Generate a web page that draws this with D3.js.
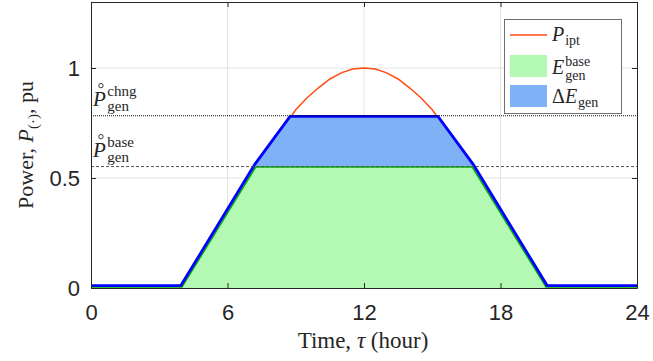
<!DOCTYPE html>
<html>
<head>
<meta charset="utf-8">
<script src="https://d3js.org/d3.v7.min.js"></script>
<style>
  body { margin: 0; background: #fff; }
  svg { display: block; }
  .tick text { font-family: "Liberation Sans", Arial, sans-serif; font-size: 22px; fill: #262626; }
  .serif { font-family: "Liberation Serif", "Times New Roman", serif; fill: #262626; }
</style>
</head>
<body>
<svg id="viz" width="653" height="361"></svg>
<script>
// input power profile P_ipt (pu) against time of day (hour)
const hours = [0, 4, 5, 6, 7, 8, 8.5, 9, 9.5, 10, 10.5, 11, 11.5, 12,
               12.5, 13, 13.5, 14, 14.5, 15, 15.5, 16, 17, 18, 19, 20, 24]
const pIpt = [0, 0, 0.17, 0.34, 0.51, 0.665, 0.737, 0.81, 0.865, 0.91, 0.95, 0.978, 0.995, 1,
              0.995, 0.978, 0.95, 0.91, 0.865, 0.81, 0.737, 0.665, 0.51, 0.34, 0.17, 0, 0]

// generation limited at the base level (green) and the changed level (blue)
const baseHours = [0, 4, 7.24, 16.76, 20, 24]
const baseGen = [0.004, 0.004, 0.55, 0.55, 0.004, 0.004]
const chngHours = [0, 3.95, 7.2, 8.75, 15.25, 16.8, 20.05, 24]
const chngGen = [0.011, 0.011, 0.562, 0.78, 0.78, 0.562, 0.011, 0.011]

const baseLevel = 0.552
const chngLevel = 0.783

const xTicks = [0, 6, 12, 18, 24]
const yTicks = [0, 0.5, 1]

const svg = d3.select("#viz")
const x = d3.scaleLinear().domain([0, 24]).range([91, 637])
const y = d3.scaleLinear().domain([0, 1.3]).range([288, 2])
const ink = "#262626"

// grid
svg.append("g").selectAll("line").data(xTicks.slice(1, -1)).enter().append("line")
  .attr("x1", d => x(d)).attr("x2", d => x(d)).attr("y1", y(0)).attr("y2", y(1.3))
  .attr("stroke", "#e4e4e4").attr("stroke-width", 1)
svg.append("g").selectAll("line").data(yTicks.slice(1)).enter().append("line")
  .attr("x1", x(0)).attr("x2", x(24)).attr("y1", d => y(d)).attr("y2", d => y(d))
  .attr("stroke", "#e4e4e4").attr("stroke-width", 1)

const pts = (hs, vs) => hs.map((h, i) => [h, vs[i]])
const line = d3.line().x(d => x(d[0])).y(d => y(d[1]))
const area = d3.area().x(d => x(d[0])).y0(y(0)).y1(d => y(d[1]))

// input power
svg.append("path").attr("d", line(pts(hours, pIpt)))
  .attr("fill", "none").attr("stroke", "#ff4d12").attr("stroke-width", 1.5)

// fills
svg.append("path").attr("d", area(pts(chngHours, chngGen))).attr("fill", "#7fb1f6")
svg.append("path").attr("d", area(pts(baseHours, baseGen))).attr("fill", "#b3f9b3")

// generation lines
svg.append("path").attr("d", line(pts(baseHours, baseGen)))
  .attr("fill", "none").attr("stroke", "#00b000").attr("stroke-width", 1.5)
svg.append("path").attr("d", line(pts(chngHours, chngGen)))
  .attr("fill", "none").attr("stroke", "#0000ff").attr("stroke-width", 2.8)

// reference levels
svg.append("line").attr("x1", x(0)).attr("x2", x(24)).attr("y1", y(chngLevel)).attr("y2", y(chngLevel))
  .attr("stroke", "#111").attr("stroke-width", 1).attr("stroke-dasharray", "1,1")
svg.append("line").attr("x1", x(0)).attr("x2", x(24)).attr("y1", y(baseLevel)).attr("y2", y(baseLevel))
  .attr("stroke", "#555").attr("stroke-width", 1).attr("stroke-dasharray", "3,2")

// axes (ticks inside, box on)
svg.append("g").attr("transform", `translate(0,${y(0)})`)
  .call(d3.axisBottom(x).tickValues(xTicks).tickSize(-5).tickPadding(16).tickSizeOuter(0))
svg.append("g").attr("transform", `translate(${x(0)},0)`)
  .call(d3.axisLeft(y).tickValues(yTicks).tickSize(-5).tickPadding(11).tickSizeOuter(0)
    .tickFormat(d3.format("~g")))
svg.append("g").attr("transform", `translate(0,${y(1.3)})`)
  .call(d3.axisTop(x).tickValues(xTicks).tickSize(-5).tickFormat("").tickSizeOuter(0))
svg.append("g").attr("transform", `translate(${x(24)},0)`)
  .call(d3.axisRight(y).tickValues(yTicks).tickSize(-5).tickFormat("").tickSizeOuter(0))
svg.selectAll(".domain, .tick line").attr("stroke", ink)

// math-style label helper: italic base letter with stacked super/subscripts
function mathLabel(g, px, py, letter, sup, sub, opts = {}) {
  const fs = opts.fs || 20, ss = opts.ss || 14
  const t = g.append("text").attr("class", "serif").attr("x", px).attr("y", py)
    .attr("font-size", fs)
  if (opts.prefix) t.append("tspan").text(opts.prefix)
  t.append("tspan").attr("font-style", "italic").text(letter)
  const w = t.node().getComputedTextLength()
  if (opts.ring) {
    // accent ring above the letter
    g.append("circle").attr("cx", px + w * 0.62).attr("cy", py - fs * 0.97).attr("r", 2.2)
      .attr("fill", "none").attr("stroke", ink).attr("stroke-width", 0.9)
  }
  const gap = opts.gap || 1
  if (sup) g.append("text").attr("class", "serif").attr("x", px + w + gap).attr("y", py - fs * (opts.supUp || 0.38))
    .attr("font-size", ss).text(sup)
  if (sub) g.append("text").attr("class", "serif").attr("x", px + w + gap).attr("y", py + fs * (sup ? (opts.subDown || 0.3) : 0.22))
    .attr("font-size", ss).text(sub)
}

const accentOpts = { ring: true, fs: 21, ss: 15, gap: 1.5, supUp: 0.47, subDown: 0.26 }
mathLabel(svg, 93, 106, "P", "chng", "gen", accentOpts)
mathLabel(svg, 93, 157, "P", "base", "gen", accentOpts)

// legend
const lg = svg.append("g")
lg.append("rect").attr("x", 504.5).attr("y", 19.5).attr("width", 117).attr("height", 94)
  .attr("fill", "#fff").attr("stroke", "#6e6e6e").attr("stroke-width", 1)
lg.append("line").attr("x1", 510).attr("x2", 547).attr("y1", 35).attr("y2", 35)
  .attr("stroke", "#ff4d12").attr("stroke-width", 1.5)
lg.append("rect").attr("x", 510).attr("y", 55).attr("width", 37).attr("height", 22).attr("fill", "#b3f9b3")
lg.append("rect").attr("x", 510).attr("y", 85).attr("width", 37).attr("height", 22).attr("fill", "#7fb1f6")
mathLabel(lg, 552, 41, "P", null, "ipt")
mathLabel(lg, 552, 74, "E", "base", "gen")
mathLabel(lg, 552, 103, "E", null, "gen", { prefix: "Δ" })

// axis titles
const xl = svg.append("text").attr("class", "serif").attr("font-size", 23)
  .attr("x", 363).attr("y", 348).attr("text-anchor", "middle")
xl.append("tspan").text("Time, ")
xl.append("tspan").attr("font-style", "italic").text("τ")
xl.append("tspan").text(" (hour)")

const yl = svg.append("text").attr("class", "serif").attr("font-size", 22)
  .attr("transform", "translate(33,145) rotate(-90)").attr("text-anchor", "middle")
yl.append("tspan").text("Power, ")
yl.append("tspan").attr("font-style", "italic").text("P")
yl.append("tspan").attr("font-size", 15).attr("dy", 5).text("(·)")
yl.append("tspan").attr("dy", -5).text(", pu")
</script>
</body>
</html>
